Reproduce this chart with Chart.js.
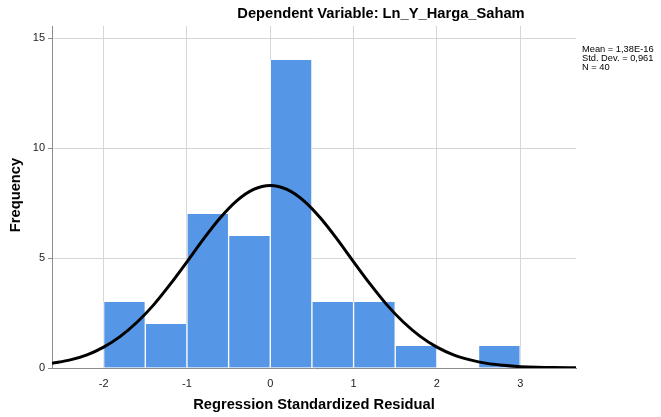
<!DOCTYPE html>
<html>
<head>
<meta charset="utf-8">
<script src="https://cdn.jsdelivr.net/npm/chart.js@4.4.0/dist/chart.umd.min.js"></script>
<style>
html,body{margin:0;padding:0;background:#fff;}
#wrap{width:661px;height:417px;position:relative;}
</style>
</head>
<body>
<div id="wrap"><canvas id="c" width="661" height="417"></canvas></div>
<script>
// Histogram bins (centers) and frequencies
const binCenters = [-1.75, -1.25, -0.75, -0.25, 0.25, 0.75, 1.25, 1.75, 2.25, 2.75];
const frequencies = [3, 2, 7, 6, 14, 3, 3, 1, 0, 1];
// Normal curve
const curveX = [-2.62,-2.4,-2.2,-2.0,-1.8,-1.6,-1.4,-1.2,-1.0,-0.8,-0.6,-0.4,-0.2,0,0.2,0.4,0.6,0.8,1.0,1.2,1.4,1.6,1.8,2.0,2.2,2.4,2.6,2.8,3.0,3.2,3.4,3.67];
const curveY = [0.21,0.37,0.60,0.95,1.44,2.08,2.87,3.81,4.83,5.87,6.83,7.61,8.12,8.30,8.12,7.61,6.83,5.87,4.83,3.81,2.87,2.08,1.44,0.95,0.60,0.37,0.21,0.12,0.06,0.03,0.02,0.01];
const xTicks = [-2, -1, 0, 1, 2, 3];
const yTicks = [0, 5, 10, 15];
const titleText = 'Dependent Variable: Ln_Y_Harga_Saham';
const xTitle = 'Regression Standardized Residual';
const yTitle = 'Frequency';
const statsLines = ['Mean = 1,38E-16', 'Std. Dev. = 0,961', 'N = 40'];

const FONT = '"Liberation Sans", Arial, sans-serif';

const textPlugin = {
  id: 'texts',
  afterDraw(chart) {
    const ctx = chart.ctx;
    const a = chart.chartArea;
    ctx.save();
    ctx.fillStyle = '#000';
    ctx.font = 'bold 14.7px ' + FONT;
    ctx.textAlign = 'center';
    ctx.textBaseline = 'middle';
    ctx.fillText(titleText, 381, 14);
    ctx.fillText(xTitle, (a.left + a.right) / 2, 405);
    ctx.save();
    ctx.translate(16, 195);
    ctx.rotate(-Math.PI / 2);
    ctx.fillText(yTitle, 0, 0);
    ctx.restore();
    ctx.font = '9.3px ' + FONT;
    ctx.textAlign = 'left';
    statsLines.forEach((s, i) => ctx.fillText(s, 582, 49 + i * 9.3));
    ctx.restore();
  }
};

new Chart(document.getElementById('c'), {
  data: {
    datasets: [
      {
        type: 'line',
        data: curveX.map((x, i) => ({x: x, y: curveY[i]})),
        borderColor: '#000',
        borderWidth: 3,
        pointRadius: 0,
        cubicInterpolationMode: 'monotone',
        fill: false,
        clip: 0,
        order: 0
      },
      {
        type: 'bar',
        data: binCenters.map((x, i) => ({x: x, y: frequencies[i]})),
        backgroundColor: '#5596e6',
        borderColor: '#ffffff',
        borderWidth: {left: 1, right: 1, top: 0, bottom: 0},
        borderSkipped: false,
        barPercentage: 1,
        categoryPercentage: 1,
        order: 1
      }
    ]
  },
  options: {
    responsive: false,
    animation: false,
    devicePixelRatio: 1,
    layout: {padding: {left: 0, right: 85, top: 26, bottom: 0}},
    plugins: {legend: {display: false}, tooltip: {enabled: false}, title: {display: false}},
    scales: {
      x: {
        type: 'linear',
        min: -2.62,
        max: 3.67,
        offset: false,
        afterFit(s) { s.height = 49; },
        afterBuildTicks(s) { s.ticks = xTicks.map(v => ({value: v})); },
        grid: {color: '#d6d6d6', lineWidth: 1, drawTicks: false, offset: false},
        border: {color: '#8c8c8c', width: 1},
        ticks: {font: {size: 11, family: FONT}, color: '#222', padding: 9, maxRotation: 0}
      },
      y: {
        type: 'linear',
        min: 0,
        max: 15.55,
        afterFit(s) { s.width = 52; },
        afterBuildTicks(s) { s.ticks = yTicks.map(v => ({value: v})); },
        grid: {color: (c) => c.tick && c.tick.value === 0 ? 'rgba(0,0,0,0)' : '#d6d6d6', lineWidth: 1, tickLength: 4, tickColor: '#8c8c8c'},
        border: {color: '#8c8c8c', width: 1},
        ticks: {font: {size: 11, family: FONT}, color: '#222', padding: 3}
      }
    }
  },
  plugins: [textPlugin]
});
</script>
</body>
</html>
